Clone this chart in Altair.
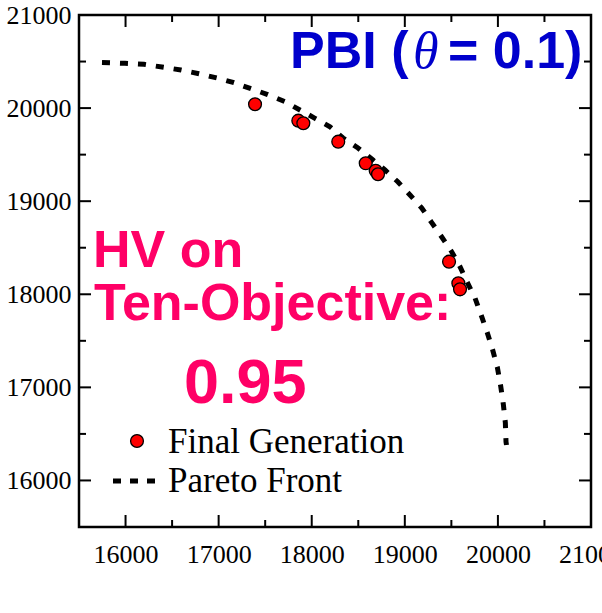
import altair as alt
import pandas as pd

# Final generation population
pop_x = [17391, 17856, 17910, 18285, 18580, 18687, 18712, 19475, 19575, 19593]
pop_y = [20041, 19865, 19837, 19639, 19407, 19327, 19289, 18350, 18118, 18053]

# Pareto front
pf_x = [15747, 15994, 16198, 16392, 16596, 16789, 16983, 17165, 17348, 17520,
        17713, 18035, 18196, 18336, 18497, 18658, 18787, 18927, 19056, 19182,
        19289, 19395, 19503, 19593, 19668, 19754, 19826, 19886, 19944, 19994,
        20030, 20058, 20080, 20087, 20092]
pf_y = [20490, 20481, 20470, 20441, 20409, 20369, 20323, 20273, 20208, 20148,
        20069, 19890, 19800, 19679, 19571, 19442, 19335, 19206, 19066, 18927,
        18769, 18618, 18457, 18296, 18135, 17960, 17759, 17587, 17401, 17215,
        17014, 16821, 16620, 16416, 16381]

tick_labels = [16000, 17000, 18000, 19000, 20000, 21000]
major_ticks = [16000, 17000, 18000, 19000, 20000]
minor_ticks = [16500, 17500, 18500, 19500, 20500]
domain = [15500, 21000]

W = H = 512
SERIF = "Liberation Serif"
SANS = "Liberation Sans"
PINK = "#FF0066"
BLUE = "#0000CC"

pop = pd.DataFrame({"x": pop_x, "y": pop_y})
pf = pd.DataFrame({"x": pf_x, "y": pf_y, "order": list(range(len(pf_x)))})
maj = pd.DataFrame({"t": major_ticks})
mino = pd.DataFrame({"t": minor_ticks})

xscale = alt.Scale(domain=domain, nice=False, zero=False)
yscale = alt.Scale(domain=domain, nice=False, zero=False)

xaxis = alt.Axis(values=tick_labels, format="d", ticks=False, domain=False, grid=False,
                 labelFont=SERIF, labelFontSize=26, labelColor="black",
                 labelFlush=False, labelOverlap=False, labelBound=False, labelPadding=14)
yaxis = alt.Axis(values=tick_labels, format="d", ticks=False, domain=False, grid=False,
                 labelFont=SERIF, labelFontSize=26, labelColor="black",
                 labelFlush=False, labelOverlap=False, labelBound=False, labelPadding=8)

front = alt.Chart(pf).mark_line(color="black", strokeWidth=5, strokeDash=[8, 10]).encode(
    x=alt.X("x:Q", scale=xscale, axis=xaxis, title=None),
    y=alt.Y("y:Q", scale=yscale, axis=yaxis, title=None),
    order="order:Q",
)

points = alt.Chart(pop).mark_point(filled=True, fill="#FF0000", stroke="black",
                                   strokeWidth=1.3, size=165, opacity=1, shape="circle").encode(
    x=alt.X("x:Q", title=None), y=alt.Y("y:Q", title=None))

def xticks(df, y0, y1):
    return alt.Chart(df).mark_rule(color="black", strokeWidth=2).encode(
        x=alt.X("t:Q", title=None), y=alt.value(y0), y2=alt.value(y1))

def yticks(df, x0, x1):
    return alt.Chart(df).mark_rule(color="black", strokeWidth=2).encode(
        y=alt.Y("t:Q", title=None), x=alt.value(x0), x2=alt.value(x1))

ticks = [
    xticks(maj, H, H - 12), xticks(mino, H, H - 7),
    xticks(maj, 0, 12), xticks(mino, 0, 7),
    yticks(maj, 0, 12), yticks(mino, 0, 7),
    yticks(maj, W, W - 12), yticks(mino, W, W - 7),
]

def label(text, x, y, font, size, color, weight="bold", style="normal"):
    return alt.Chart(pd.DataFrame({"t": [text]})).mark_text(
        align="left", baseline="alphabetic", font=font, fontSize=size,
        fontWeight=weight, fontStyle=style, color=color).encode(
        x=alt.value(x), y=alt.value(y), text="t:N")

notes = [
    label("PBI (", 211, 53, SANS, 52, BLUE),
    label("\u03b8", 334, 53, SERIF, 52, BLUE, weight="normal", style="italic"),
    label("= 0.1)", 369, 53, SANS, 52, BLUE),
    label("HV on", 14, 252, SANS, 52, PINK),
    label("Ten-Objective:", 15, 305, SANS, 52, PINK),
    label("0.95", 105, 388, SANS, 63, PINK),
    label("Final Generation", 89, 438, SERIF, 35, "black", weight="normal"),
    label("Pareto Front", 89, 477, SERIF, 35, "black", weight="normal"),
]

leg_pt = alt.Chart(pd.DataFrame({"k": ["Final Generation"]})).mark_point(
    filled=True, fill="#FF0000", stroke="black", strokeWidth=1.3, size=165, opacity=1,
    shape="circle").encode(x=alt.value(58), y=alt.value(426))
leg_line = alt.Chart(pd.DataFrame({"k": ["Pareto Front"]})).mark_rule(
    color="black", strokeWidth=5, strokeDash=[8, 9]).encode(
    x=alt.value(34), x2=alt.value(77), y=alt.value(466))

chart = alt.layer(front, points, *ticks, *notes, leg_pt, leg_line).properties(
    width=W, height=H,
    autosize=alt.AutoSizeParams(type="none"),
    padding={"left": 79, "top": 15, "right": 11, "bottom": 86},
).configure(background="white").configure_view(stroke="black", strokeWidth=2.5)

chart.save("out.html", embed_options={"renderer": "svg", "actions": False})
